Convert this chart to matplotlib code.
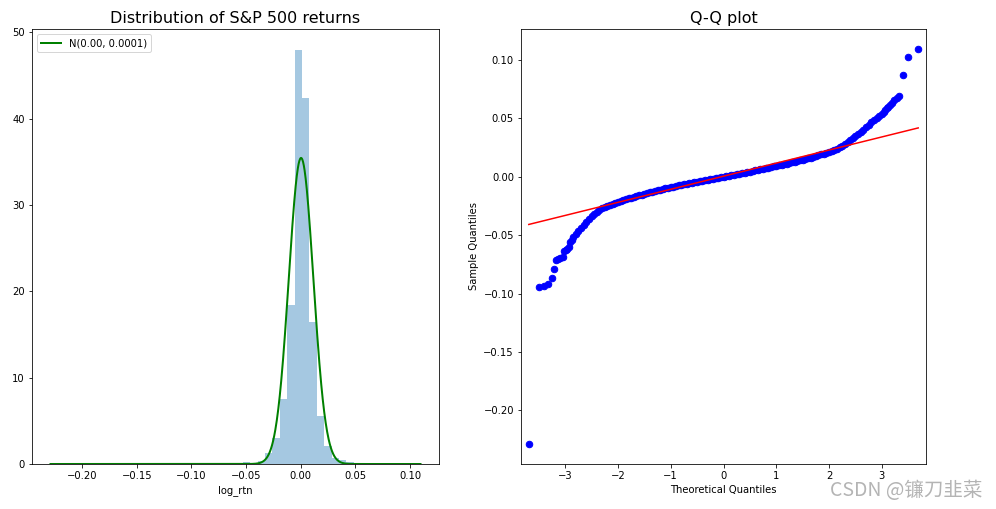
import numpy as np
import matplotlib
matplotlib.use("Agg")
import matplotlib.pyplot as plt

# ---------------- data ----------------
rtn_min = -0.2290
rtn_max = 0.1096
n_bins = 50
hist_density = [0.017, 0, 0, 0, 0, 0, 0, 0, 0, 0,
                0, 0, 0, 0, 0, 0, 0, 0, 0, 0.034,
                0.017, 0, 0.017, 0.052, 0.07, 0.12, 0.25, 0.12, 0.35, 1.31,
                3.05, 7.54, 18.45, 48.0, 42.46, 16.5, 5.57, 2.09, 0.66, 0.46,
                0.2, 0.1, 0.05, 0.05, 0.02, 0, 0.017, 0, 0.017, 0.017]
norm_mu = 0.0003
norm_sigma = 0.01125
legend_label = "N(0.00, 0.0001)"

# left tail (individual observations)
qq_tail_left_x = [-3.69, -3.50, -3.40, -3.32, -3.25, -3.21, -3.17, -3.13, -3.09, -3.05,
                  -3.02, -2.99, -2.96, -2.93, -2.90, -2.88]
qq_tail_left_y = [-0.2290, -0.0945, -0.0939, -0.0922, -0.0868, -0.0790, -0.0712, -0.0700,
                  -0.0695, -0.0688, -0.0632, -0.0625, -0.0618, -0.0600, -0.0555, -0.0540]
# dense body of the distribution
qq_body_x = [
    -2.85, -2.80, -2.75, -2.70, -2.65, -2.60, -2.55, -2.50, -2.45, -2.40,
    -2.35, -2.30, -2.25, -2.20, -2.15, -2.10, -2.05, -2.00, -1.95, -1.90,
    -1.85, -1.80, -1.75, -1.70, -1.65, -1.60, -1.55, -1.50, -1.45, -1.40,
    -1.35, -1.30, -1.25, -1.20, -1.15, -1.10, -1.05, -1.00, -0.95, -0.90,
    -0.85, -0.80, -0.75, -0.70, -0.65, -0.60, -0.55, -0.50, -0.45, -0.40,
    -0.35, -0.30, -0.25, -0.20, -0.15, -0.10, -0.05, 0.00, 0.05, 0.10,
    0.15, 0.20, 0.25, 0.30, 0.35, 0.40, 0.45, 0.50, 0.55, 0.60,
    0.65, 0.70, 0.75, 0.80, 0.85, 0.90, 0.95, 1.00, 1.05, 1.10,
    1.15, 1.20, 1.25, 1.30, 1.35, 1.40, 1.45, 1.50, 1.55, 1.60,
    1.65, 1.70, 1.75, 1.80, 1.85, 1.90, 1.95, 2.00, 2.05, 2.10,
    2.15, 2.20, 2.25, 2.30, 2.35, 2.40, 2.45, 2.50, 2.55, 2.60,
    2.65, 2.70, 2.75, 2.80, 2.85, 2.90, 2.95, 3.00, 3.05]
qq_body_y = [
    -0.0515, -0.0490, -0.0465, -0.0440, -0.0412, -0.0385, -0.0360, -0.0337, -0.0316, -0.0298,
    -0.0282, -0.0267, -0.0257, -0.0249, -0.0240, -0.0232, -0.0224, -0.0216, -0.0208, -0.0200,
    -0.0193, -0.0186, -0.0179, -0.0172, -0.0165, -0.0158, -0.0152, -0.0145, -0.0139, -0.0133,
    -0.0127, -0.0121, -0.0115, -0.0110, -0.0104, -0.0099, -0.0094, -0.0089, -0.0084, -0.0079,
    -0.0074, -0.0070, -0.0065, -0.0061, -0.0056, -0.0052, -0.0047, -0.0043, -0.0039, -0.0034,
    -0.0030, -0.0026, -0.0021, -0.0017, -0.0013, -0.0008, -0.0004, 0.0000, 0.0004, 0.0009,
    0.0013, 0.0018, 0.0022, 0.0027, 0.0031, 0.0036, 0.0040, 0.0045, 0.0049, 0.0054,
    0.0059, 0.0063, 0.0068, 0.0073, 0.0078, 0.0083, 0.0088, 0.0093, 0.0098, 0.0103,
    0.0108, 0.0113, 0.0118, 0.0124, 0.0129, 0.0135, 0.0140, 0.0146, 0.0152, 0.0158,
    0.0164, 0.0170, 0.0177, 0.0184, 0.0191, 0.0198, 0.0206, 0.0214, 0.0222, 0.0231,
    0.0241, 0.0252, 0.0265, 0.0280, 0.0295, 0.0312, 0.0328, 0.0345, 0.0362, 0.0380,
    0.0400, 0.0422, 0.0444, 0.0465, 0.0486, 0.0505, 0.0523, 0.0540, 0.0558]
# right tail (individual observations)
qq_tail_right_x = [3.06, 3.09, 3.12, 3.15, 3.19, 3.24, 3.28, 3.33, 3.40, 3.50, 3.69]
qq_tail_right_y = [0.0568, 0.0585, 0.0600, 0.0618, 0.0633, 0.0660, 0.0672, 0.0688,
                   0.0873, 0.1025, 0.1096]
qq_line_slope = 0.0112
qq_line_intercept = 0.0005

# ---------------- figure ----------------
W, H, DPI = 996, 509, 72
fig = plt.figure(figsize=(W / DPI, H / DPI), dpi=DPI)
ax0 = fig.add_axes([32 / W, 45 / H, 407 / W, 435 / H])
ax1 = fig.add_axes([521 / W, 45 / H, 405 / W, 435 / H])

# histogram (density)
edges = np.linspace(rtn_min, rtn_max, n_bins + 1)
ax0.bar(edges[:-1], hist_density, width=np.diff(edges), align="edge",
        color="#1f77b4", alpha=0.4, linewidth=0)
r_range = np.linspace(rtn_min, rtn_max, 1000)
pdf = np.exp(-0.5 * ((r_range - norm_mu) / norm_sigma) ** 2) / (norm_sigma * np.sqrt(2 * np.pi))
ax0.plot(r_range, pdf, "g-", lw=2, label=legend_label)
ax0.set_title("Distribution of S&P 500 returns", fontsize=16)
ax0.set_xlabel("log_rtn")
ax0.legend(loc="upper left")
ax0.margins(x=0.05, y=0.05)
ax0.set_ylim(bottom=0)

# QQ plot
qt = np.array(qq_tail_left_x + qq_body_x + qq_tail_right_x)
qs = np.array(qq_tail_left_y + qq_body_y + qq_tail_right_y)
ax1.plot(qt, qs, "bo", markersize=6.5)
ax1.plot(qt, qq_line_intercept + qq_line_slope * qt, "r-")
ax1.set_xmargin(0.02)
ax1.set_title("Q-Q plot", fontsize=16)
ax1.set_xlabel("Theoretical Quantiles")
ax1.set_ylabel("Sample Quantiles")

fig.text(982 / W, 1 - 491 / H, "CSDN @镰刀韭菜", ha="right", va="center",
         fontsize=19.5, color="#b4b4b4", family=["Noto Sans CJK SC", "DejaVu Sans"])

fig.savefig("out.png", dpi=DPI)
